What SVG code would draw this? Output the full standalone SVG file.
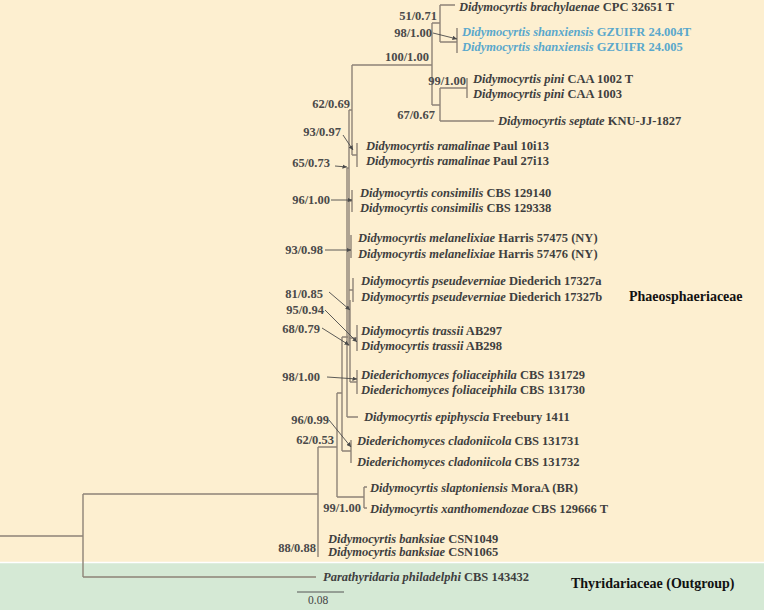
<svg xmlns="http://www.w3.org/2000/svg" width="764" height="610" viewBox="0 0 764 610">
<defs>
<marker id="ah" viewBox="0 0 6 6" refX="6" refY="3" markerWidth="5" markerHeight="5" orient="auto"><path d="M0,0 L6,3 L0,6 z" fill="#4a4a4a"/></marker>
<style>
.br{stroke:#8d8377;stroke-width:1.4;fill:none}
.ar{stroke:#4a4a4a;stroke-width:0.9;fill:none;marker-end:url(#ah)}
.tx{font-family:"Liberation Serif","Times New Roman",serif;font-size:12.5px;font-weight:bold;fill:#3f3f3f}
.sp{font-style:italic}
.bl{fill:#5aa8cc}
.bs{font-family:"Liberation Serif","Times New Roman",serif;font-size:12.5px;font-weight:bold;fill:#4a4a4a}
.fam{font-family:"Liberation Serif","Times New Roman",serif;font-size:14px;font-weight:bold;fill:#111}
</style>
</defs>
<rect x="0" y="0" width="764" height="562" fill="#fdefd0"/>
<rect x="0" y="563" width="764" height="47" fill="#d5e9d5"/>
<line x1="0" y1="562.5" x2="764" y2="562.5" stroke="#ffffff" stroke-width="1.5"/>

<g id="connectors">
<path class="br" d="M0,536H83M83,494V577M83,577H316M83,494H318M318,447V557M318,447H337M337,393V497M337,497H364M364,487V508M364,487H367M364,508H367"/>
<path class="br" d="M337,393H342M342,337V451M342,451H351M351,440V463M342,337H348"/>
<path class="br" d="M347,168V417M347,417H358M349,110V345M347,168H349M349,110H352M352,65V155M352,155H357M357,143V167"/>
<path class="br" d="M352,65H432M432,23V105M432,23H440M440,5V42M440,5H455M440,42H457M457,28V53M432,105H440M440,88V121M440,88H467M467,78V98M440,121H494"/>
<path class="br" d="M347,201H352M352,190V212M347,250H351M351,235V258M349,290H353M353,278V302M350,300V382M350,382H357M357,370V394M349,338H357M357,325V351"/>
<path class="br" d="M347,345H350"/>
<line x1="297" y1="592" x2="344" y2="592" stroke="#555" stroke-width="1"/>
</g>

<g id="arrows">
<path class="ar" d="M433,33L457,39"/>
<path class="ar" d="M343,135L353,150"/>
<path class="ar" d="M335,166L347,167"/>
<path class="ar" d="M331,200L352,200"/>
<path class="ar" d="M325,250L351,250"/>
<path class="ar" d="M329,292L350,310"/>
<path class="ar" d="M325,310L357,342"/>
<path class="ar" d="M322,328L349,345"/>
<path class="ar" d="M327,377L357,379"/>
<path class="ar" d="M329,420L351,447"/>
</g>

<g id="supports">
<text class="bs" x="437" y="20" text-anchor="end">51/0.71</text>
<text class="bs" x="432" y="37" text-anchor="end">98/1.00</text>
<text class="bs" x="429" y="61" text-anchor="end">100/1.00</text>
<text class="bs" x="466" y="85" text-anchor="end">99/1.00</text>
<text class="bs" x="435" y="119" text-anchor="end">67/0.67</text>
<text class="bs" x="350" y="108" text-anchor="end">62/0.69</text>
<text class="bs" x="341" y="136" text-anchor="end">93/0.97</text>
<text class="bs" x="330" y="167" text-anchor="end">65/0.73</text>
<text class="bs" x="330" y="204" text-anchor="end">96/1.00</text>
<text class="bs" x="323" y="254" text-anchor="end">93/0.98</text>
<text class="bs" x="323" y="298" text-anchor="end">81/0.85</text>
<text class="bs" x="324" y="314" text-anchor="end">95/0.94</text>
<text class="bs" x="320" y="333" text-anchor="end">68/0.79</text>
<text class="bs" x="320" y="381" text-anchor="end">98/1.00</text>
<text class="bs" x="329" y="424" text-anchor="end">96/0.99</text>
<text class="bs" x="334" y="444" text-anchor="end">62/0.53</text>
<text class="bs" x="361" y="512" text-anchor="end">99/1.00</text>
<text class="bs" x="316" y="552" text-anchor="end">88/0.88</text>
</g>

<g id="taxa">
<text class="tx" x="459" y="11"><tspan class="sp">Didymocyrtis brachylaenae</tspan> CPC 32651 T</text>
<text class="tx bl" x="462" y="36"><tspan class="sp">Didymocyrtis shanxiensis</tspan> GZUIFR 24.004T</text>
<text class="tx bl" x="462" y="51"><tspan class="sp">Didymocyrtis shanxiensis</tspan> GZUIFR 24.005</text>
<text class="tx" x="473" y="83"><tspan class="sp">Didymocyrtis pini</tspan> CAA 1002 T</text>
<text class="tx" x="473" y="98"><tspan class="sp">Didymocyrtis pini</tspan> CAA 1003</text>
<text class="tx" x="498" y="125"><tspan class="sp">Didymocyrtis septate</tspan> KNU-JJ-1827</text>
<text class="tx" x="366" y="150"><tspan class="sp">Didymocyrtis ramalinae</tspan> Paul 10i13</text>
<text class="tx" x="366" y="165"><tspan class="sp">Didymocyrtis ramalinae</tspan> Paul 27i13</text>
<text class="tx" x="360" y="197"><tspan class="sp">Didymocyrtis consimilis</tspan> CBS 129140</text>
<text class="tx" x="360" y="212"><tspan class="sp">Didymocyrtis consimilis</tspan> CBS 129338</text>
<text class="tx" x="358" y="242"><tspan class="sp">Didymocyrtis melanelixiae</tspan> Harris 57475 (NY)</text>
<text class="tx" x="358" y="258"><tspan class="sp">Didymocyrtis melanelixiae</tspan> Harris 57476 (NY)</text>
<text class="tx" x="361" y="285"><tspan class="sp">Didymocyrtis pseudeverniae</tspan> Diederich 17327a</text>
<text class="tx" x="361" y="301"><tspan class="sp">Didymocyrtis pseudeverniae</tspan> Diederich 17327b</text>
<text class="tx" x="361" y="335"><tspan class="sp">Didymocyrtis trassii</tspan> AB297</text>
<text class="tx" x="361" y="350"><tspan class="sp">Didymocyrtis trassii</tspan> AB298</text>
<text class="tx" x="361" y="379"><tspan class="sp">Diederichomyces foliaceiphila</tspan> CBS 131729</text>
<text class="tx" x="361" y="394"><tspan class="sp">Diederichomyces foliaceiphila</tspan> CBS 131730</text>
<text class="tx" x="364" y="421"><tspan class="sp">Didymocyrtis epiphyscia</tspan> Freebury 1411</text>
<text class="tx" x="357" y="445"><tspan class="sp">Diederichomyces cladoniicola</tspan> CBS 131731</text>
<text class="tx" x="357" y="466"><tspan class="sp">Diederichomyces cladoniicola</tspan> CBS 131732</text>
<text class="tx" x="370" y="492"><tspan class="sp">Didymocyrtis slaptoniensis</tspan> MoraA (BR)</text>
<text class="tx" x="370" y="513"><tspan class="sp">Didymocyrtis xanthomendozae</tspan> CBS 129666 T</text>
<text class="tx" x="328" y="543"><tspan class="sp">Didymocyrtis banksiae</tspan> CSN1049</text>
<text class="tx" x="328" y="556"><tspan class="sp">Didymocyrtis banksiae</tspan> CSN1065</text>
<text class="tx" x="323" y="581"><tspan class="sp">Parathyridaria philadelphi</tspan> CBS 143432</text>
</g>

<g id="labels">
<text class="fam" x="629" y="301">Phaeosphaeriaceae</text>
<text class="fam" x="571" y="588">Thyridariaceae (Outgroup)</text>
<text x="308" y="604" font-family="Liberation Serif, serif" font-size="11.5" fill="#444">0.08</text>
</g>
</svg>
